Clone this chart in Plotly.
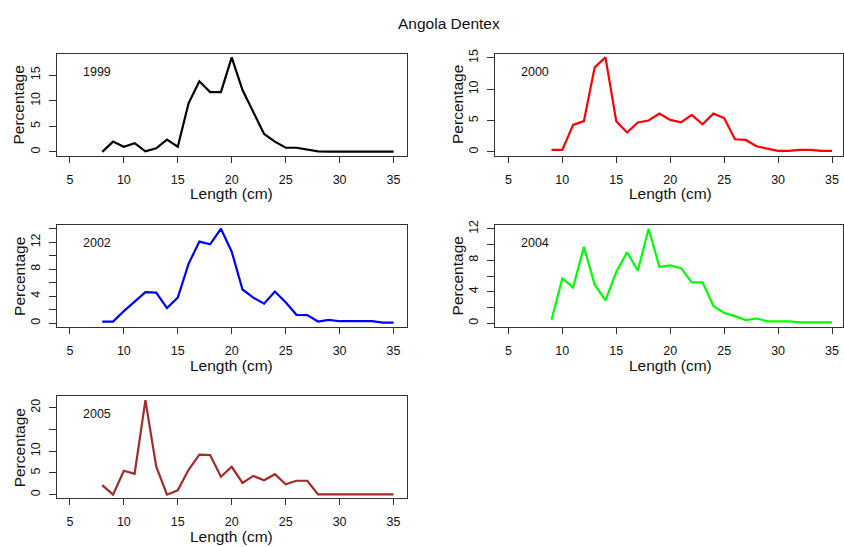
import plotly.graph_objects as go

# Length classes (cm) and percentage frequency per survey year
len_1999 = list(range(8, 36))
pct_1999 = [0.0, 2.0, 1.0, 1.7, 0.1, 0.7, 2.4, 1.0, 9.5, 13.8, 11.7, 11.7, 18.5, 12.1,
            7.8, 3.5, 2.0, 0.8, 0.8, 0.5, 0.1, 0.05, 0.05, 0.05, 0.05, 0.05, 0.05, 0.05]

len_2000 = list(range(9, 36))
pct_2000 = [0.3, 0.3, 4.3, 4.9, 13.5, 15.1, 4.9, 3.1, 4.7, 5.0, 6.1, 5.1, 4.7, 5.9,
            4.4, 6.1, 5.4, 2.0, 1.9, 0.9, 0.5, 0.15, 0.15, 0.3, 0.3, 0.15, 0.15]

len_2002 = list(range(8, 36))
pct_2002 = [0.25, 0.25, 1.8, 3.2, 4.6, 4.55, 2.25, 3.8, 8.8, 12.1, 11.7, 14.0, 10.6, 5.0,
            3.8, 2.9, 4.7, 3.1, 1.25, 1.2, 0.25, 0.5, 0.3, 0.3, 0.3, 0.3, 0.1, 0.1]

len_2004 = list(range(9, 36))
pct_2004 = [0.45, 5.7, 4.55, 9.7, 4.9, 2.9, 6.5, 9.0, 6.7, 12.0, 7.15, 7.35, 7.0, 5.2,
            5.2, 2.2, 1.3, 0.9, 0.4, 0.6, 0.25, 0.25, 0.25, 0.1, 0.1, 0.1, 0.1]

len_2005 = list(range(8, 36))
pct_2005 = [2.2, 0.0, 5.5, 4.8, 21.7, 6.5, 0.0, 1.0, 5.7, 9.2, 9.1, 4.1, 6.4, 2.7,
            4.3, 3.3, 4.7, 2.4, 3.2, 3.2, 0.05, 0.05, 0.05, 0.05, 0.05, 0.05, 0.05, 0.05]

years = ["1999", "2000", "2002", "2004", "2005"]
colors = ["#000000", "#FF0000", "#0000FF", "#00FF00", "#A52A2A"]
lengths = [len_1999, len_2000, len_2002, len_2004, len_2005]
values = [pct_1999, pct_2000, pct_2002, pct_2004, pct_2005]

# y-axis ticks and which of them carry labels
y_ticks = [[0, 5, 10, 15], [0, 5, 10, 15], list(range(0, 15, 2)),
           list(range(0, 13, 2)), [0, 5, 10, 15, 20]]
y_labels = [["0", "5", "10", "15"], ["0", "5", "10", "15"],
            ["0", "", "4", "", "8", "", "12", ""],
            ["0", "", "4", "", "8", "", "12"],
            ["0", "5", "10", "", "20"]]
x_ticks = [5, 10, 15, 20, 25, 30, 35]

W, H = 844, 547
FONT = "Liberation Sans, Arial, sans-serif"
TXT = "#111111"

# Panel boxes in pixels: (left, right, top, bottom)
BOX_W = 350
col_left = [57, 496]
row_top = [49, 222, 395]
BOX_H = 103
x_lo, x_hi = 3.8, 36.2  # 5..35 padded by 4%
px_per_unit = BOX_W / (x_hi - x_lo)

fig = go.Figure()
layout = dict(
    width=W, height=H, margin=dict(l=0, r=0, t=0, b=0),
    paper_bgcolor="white", plot_bgcolor="white", showlegend=False,
    font=dict(family=FONT, color=TXT),
)
annotations = []

for i, (yr, col, xs, ys) in enumerate(zip(years, colors, lengths, values)):
    r, c = divmod(i, 2)
    left = col_left[c]
    right = min(left + BOX_W, W)
    top = row_top[r]
    bottom = top + BOX_H
    ax = "" if i == 0 else str(i + 1)
    xname, yname = "xaxis" + ax, "yaxis" + ax
    xr, yr_ = "x" + ax, "y" + ax

    fig.add_trace(go.Scatter(x=xs, y=ys, mode="lines", xaxis=xr, yaxis=yr_,
                             line=dict(color=col, width=2.2), hoverinfo="skip"))

    ymax = max(ys)
    xr_hi = x_lo + (right - left) / px_per_unit
    layout[xname] = dict(
        domain=[left / W, right / W], range=[x_lo, xr_hi], anchor=yr_,
        tickmode="array", tickvals=x_ticks, ticktext=[str(v) for v in x_ticks],
        ticks="outside", ticklen=6, tickwidth=1, tickcolor="#333",
        showline=True, mirror=True, linecolor="#333", linewidth=1,
        showgrid=False, zeroline=False, tickfont=dict(size=12.5, family=FONT, color=TXT),
        ticklabelstandoff=6,
    )
    layout[yname] = dict(
        domain=[1 - bottom / H, 1 - top / H], range=[-0.04 * ymax, 1.04 * ymax],
        anchor=xr, tickmode="array", tickvals=y_ticks[i], ticktext=y_labels[i],
        tickangle=-90, ticks="outside", ticklen=7, tickwidth=1, tickcolor="#333",
        showline=True, mirror=True, linecolor="#333", linewidth=1,
        showgrid=False, zeroline=False, tickfont=dict(size=12.5, family=FONT, color=TXT),
        ticklabelstandoff=4,
    )

    # year label in the upper-left corner of the panel
    annotations.append(dict(text=yr, xref=xr + " domain", yref=yr_ + " domain",
                            x=0, y=1, xanchor="left", yanchor="middle",
                            xshift=24, yshift=-18, showarrow=False,
                            font=dict(size=12.5, family=FONT, color=TXT)))
    # axis titles
    annotations.append(dict(text="Length (cm)", xref="paper", yref=yr_ + " domain",
                            x=(left + BOX_W / 2) / W, y=0, xanchor="center",
                            yanchor="middle", yshift=-38, showarrow=False,
                            font=dict(size=15.5, family=FONT, color=TXT)))
    annotations.append(dict(text="Percentage", xref=xr + " domain", yref=yr_ + " domain",
                            x=0, y=0.5, xanchor="center", yanchor="middle",
                            xshift=-38, textangle=-90, showarrow=False,
                            font=dict(size=15.5, family=FONT, color=TXT)))

annotations.append(dict(text="Angola Dentex", xref="paper", yref="paper",
                        x=450 / W, y=1 - 19 / H, xanchor="center", yanchor="middle",
                        showarrow=False, font=dict(size=15.5, family=FONT, color=TXT)))
layout["annotations"] = annotations
fig.update_layout(**layout)
fig.write_html("out.html")
